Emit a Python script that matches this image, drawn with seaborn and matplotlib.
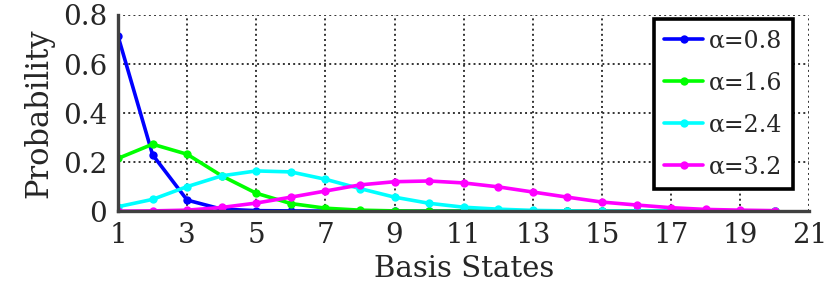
import numpy as np
import pandas as pd
import seaborn as sns
import matplotlib
matplotlib.use('Agg')
import matplotlib.pyplot as plt
from matplotlib.ticker import MultipleLocator, FuncFormatter

# basis states and probabilities
states = list(range(1, 21))
p_08 = [0.714, 0.230, 0.045, 0.008, 0.002, 0.001, 0.0, 0.0, 0.0, 0.0,
        0.0, 0.0, 0.0, 0.0, 0.0, 0.0, 0.0, 0.0, 0.0, 0.0]
p_16 = [0.215, 0.273, 0.232, 0.144, 0.073, 0.031, 0.012, 0.004, 0.001, 0.0,
        0.0, 0.0, 0.0, 0.0, 0.0, 0.0, 0.0, 0.0, 0.0, 0.0]
p_24 = [0.018, 0.048, 0.100, 0.144, 0.164, 0.160, 0.130, 0.092, 0.057, 0.032,
        0.016, 0.008, 0.003, 0.001, 0.0, 0.0, 0.0, 0.0, 0.0, 0.0]
p_32 = [0.0, 0.001, 0.004, 0.015, 0.033, 0.057, 0.082, 0.107, 0.120, 0.123,
        0.115, 0.099, 0.078, 0.057, 0.037, 0.025, 0.014, 0.007, 0.004, 0.002]

labels = ['α=0.8', 'α=1.6', 'α=2.4', 'α=3.2']
colors = ['#0000ff', '#00ff00', '#00ffff', '#ff00ff']
xticks = list(range(1, 22, 2))

frames = []
for lab, vals in zip(labels, [p_08, p_16, p_24, p_32]):
    frames.append(pd.DataFrame({'state': states, 'prob': vals, 'alpha': lab}))
df = pd.concat(frames, ignore_index=True)

sns.set_style('white')
plt.rcParams['font.family'] = ['DejaVu Serif']

fig = plt.figure(figsize=(8.37, 3.06), dpi=100)
ax = fig.add_axes([0.141, 0.310, 0.826, 0.641])

sns.lineplot(data=df, x='state', y='prob', hue='alpha', hue_order=labels,
             palette=colors, marker='o', markersize=6, markeredgewidth=0,
             linewidth=2.6, ax=ax, legend=False)

ax.set_xlim(1, 21)
ax.set_ylim(0, 0.8)
ax.set_xticks(xticks)
ax.xaxis.set_minor_locator(MultipleLocator(1))
ax.yaxis.set_major_locator(MultipleLocator(0.2))
ax.yaxis.set_minor_locator(MultipleLocator(0.1))
ax.yaxis.set_major_formatter(FuncFormatter(lambda v, p: '%g' % round(v, 2)))

ax.grid(True, which='major', linestyle=':', color='#333333', linewidth=1.4)
ax.set_axisbelow(True)

for s in ['top', 'right']:
    ax.spines[s].set_visible(False)
for s in ['left', 'bottom']:
    ax.spines[s].set_color('#404040')
    ax.spines[s].set_linewidth(2.4)

ax.tick_params(which='both', direction='out', color='#404040', width=1.5,
               labelsize=20, labelcolor='#262626')
ax.tick_params(which='major', length=5, pad=3)
ax.tick_params(which='minor', length=3)

ax.set_xlabel('Basis States', fontsize=21, color='#262626', labelpad=4)
ax.set_ylabel('Probability', fontsize=22, color='#262626', labelpad=6)

handles = [plt.Line2D([], [], color=c, linewidth=2.6, marker='o',
                      markersize=6, markeredgewidth=0) for c in colors]
leg = ax.legend(handles, labels, loc='upper right', bbox_to_anchor=(0.977, 0.98),
                borderaxespad=0, fontsize=17, frameon=True, fancybox=False,
                framealpha=1, edgecolor='black', handlelength=1.65,
                handletextpad=0.25, labelspacing=0.8, borderpad=0.45)
leg.get_frame().set_linewidth(2.6)

fig.savefig('out.png', dpi=100)
